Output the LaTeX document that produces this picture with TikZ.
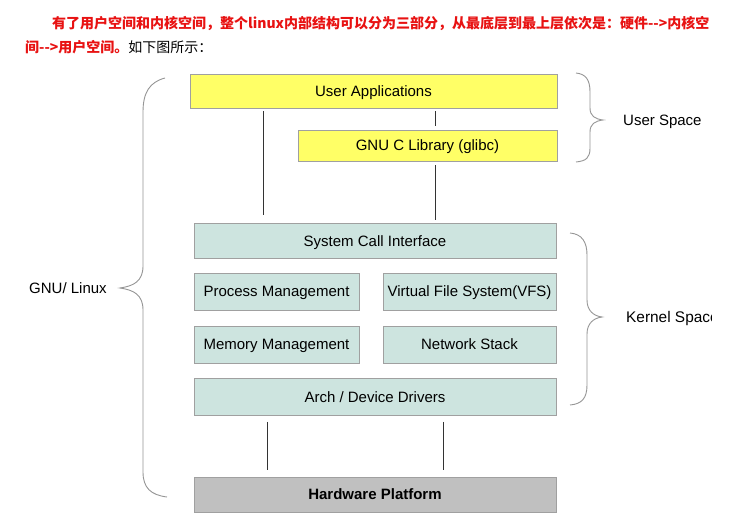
\documentclass[tikz,border=0pt]{standalone}
\usepackage{fontspec}
\setmainfont{Liberation Sans}
\newfontfamily\cjk{Noto Sans CJK SC}
\usetikzlibrary{calc}
\definecolor{uyellow}{RGB}{255,255,102}
\definecolor{kteal}{RGB}{205,228,223}
\definecolor{hwgray}{RGB}{192,192,192}
\definecolor{bordergray}{RGB}{160,160,160}
\definecolor{bracegray}{RGB}{150,150,150}
\definecolor{headred}{RGB}{232,18,18}
\begin{document}
\begin{tikzpicture}[x=1pt,y=-1pt,
  every node/.style={inner sep=0pt,font=\fontsize{15}{17}\selectfont},
  boxbase/.style={draw=bordergray,line width=0.8pt,text height=10.8pt,text depth=0pt},
  ubox/.style={boxbase,fill=uyellow,minimum height=#1},
  kbox/.style={boxbase,fill=kteal,minimum height=#1},
  hbox/.style={boxbase,fill=hwgray,minimum height=#1,font=\fontsize{15}{17}\selectfont\bfseries},
  conn/.style={draw=black!80,line width=0.7pt},
  bracel/.style={draw=bracegray,line width=0.9pt},
  lbl/.style={anchor=west,text height=10.8pt,text depth=0pt},
  head/.style={anchor=base west,font=\fontsize{14}{17}\selectfont\cjk}]
\useasboundingbox (0,0) rectangle (744,524);
\fill[white] (0,0) rectangle (744,524);

% heading
\node[head,text=headred,font=\fontsize{14}{17}\selectfont\cjk\bfseries] (h1) at (52,28.5) {有了用户空间和内核空间，整个linux内部结构可以分为三部分，从最底层到最上层依次是：硬件-->内核空};
\node[head] (h2) at (25,52.5) {\textcolor{headred}{\bfseries 间-->用户空间。}如下图所示：};

% boxes
\node[ubox=34,minimum width=367] (ua) at (373.5,91) {User Applications};
\node[ubox=31,minimum width=259] (glibc) at (427.5,145.5) {GNU C Library (glibc)};
\node[kbox=35,minimum width=362] (sci) at (375,241) {System Call Interface};
\node[kbox=37,minimum width=165] (pm) at (276.5,291.5) {Process Management};
\node[kbox=37,minimum width=173] (vfs) at (469.5,291.5) {Virtual File System(VFS)};
\node[kbox=37,minimum width=165] (mm) at (276.5,344.5) {Memory Management};
\node[kbox=37,minimum width=173] (ns) at (469.5,344.5) {Network Stack};
\node[kbox=37,minimum width=362] (arch) at (375,397) {Arch / Device Drivers};
\node[hbox=35,minimum width=362] (hw) at (375,494.5) {Hardware Platform};

% connector x positions
\coordinate (xa) at (263,0);
\coordinate (xb) at (435,0);
\coordinate (xc) at (267,0);
\coordinate (xd) at (443,0);

\draw[conn] ([yshift=-3pt]ua.south -| xa) -- ([yshift=8pt]sci.north -| xa);
\draw[conn] ([yshift=-3pt]ua.south -| xb) -- ([yshift=4pt]glibc.north -| xb);
\draw[conn] ([yshift=-4pt]glibc.south -| xb) -- ([yshift=3pt]sci.north -| xb);
\draw[conn] ([yshift=-6pt]arch.south -| xc) -- ([yshift=7pt]hw.north -| xc);
\draw[conn] ([yshift=-6pt]arch.south -| xd) -- ([yshift=7pt]hw.north -| xd);

% braces
\draw[bracel] (165,78) .. controls (150,82) and (143,92) .. (143,112) -- (143,266)
  .. controls (143,281) and (134,286) .. (120,288)
  .. controls (134,290) and (143,295) .. (143,310) -- (143,472)
  .. controls (143,488) and (151,495) .. (167,497);
\draw[bracel] (576,73) .. controls (586,74) and (590,80) .. (590,92) -- (590,108)
  .. controls (590,116) and (595,119) .. (603,120)
  .. controls (595,121) and (590,124) .. (590,132) -- (590,148)
  .. controls (590,158) and (586,161) .. (576,162);
\draw[bracel] (570,233) .. controls (582,234) and (587,242) .. (587,255) -- (587,300)
  .. controls (587,311) and (594,316) .. (602,317)
  .. controls (594,318) and (587,323) .. (587,334) -- (587,385)
  .. controls (587,398) and (582,404) .. (570,405);

% side labels
\node[anchor=center,text height=10.8pt,text depth=0pt] (gnu) at (68,288) {GNU/ Linux};
\node[lbl] (us) at (623,120) {User Space};
\begin{scope}
\clip (600,290) rectangle (711,345);
\node[lbl,font=\fontsize{15.4}{17}\selectfont] (ks) at (626,317) {Kernel Space};
\end{scope}
\end{tikzpicture}
\end{document}
